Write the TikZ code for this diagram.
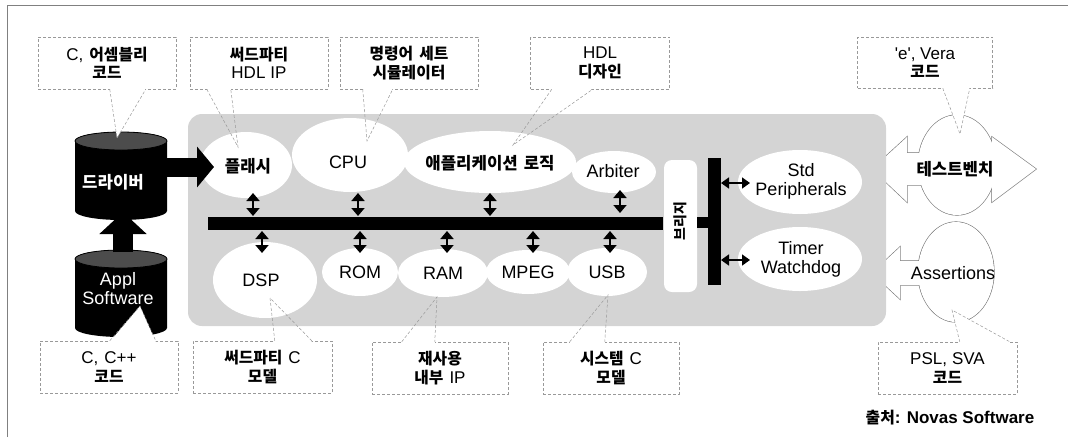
\documentclass[tikz,border=0pt]{standalone}
\usepackage{fontspec}
\setmainfont{Liberation Sans}
\newfontfamily\kr{Noto Sans CJK KR}[Scale=0.93]
\usetikzlibrary{arrows.meta}
\newcommand\K[1]{{\kr\bfseries #1}}
\begin{document}
\begin{tikzpicture}[x=1pt,y=-1pt,
  lbl/.style={font=\fontsize{18}{19}\selectfont, align=center, inner sep=0pt},
  wlbl/.style={lbl, text=white},
  callbox/.style={draw=black!40, densely dashed, fill=white, line width=0.5pt,
    minimum width=138pt, minimum height=52pt, align=center,
    font=\fontsize{17}{18.5}\selectfont, inner sep=0pt},
  wedge/.style={draw=black!40, densely dashed, line width=0.5pt},
  busarr/.style={line width=1.8pt, {Triangle[width=13pt,length=8pt]}-{Triangle[width=13pt,length=8pt]}},
  sidearr/.style={line width=1.6pt, {Triangle[width=11pt,length=8pt]}-{Triangle[width=11pt,length=8pt]}},
  bigarrow/.style={line width=19pt, -{Triangle[width=40pt,length=17pt]}},
  tbline/.style={draw=black!55, line width=1.2pt},
  zone/.style={fill=black!17},
  blob/.style={fill=white},
  cyl/.style={fill=black},
  cyltop/.style={fill=black!70, draw=black, line width=0.8pt}]
\useasboundingbox (0,0) rectangle (1068,437);
% frame
\draw[black!50, line width=0.8pt] (7,437) -- (7,5) -- (1068,5);

% testbench and assertions shapes
\draw[tbline] (957,165) ellipse[x radius=39pt, y radius=50pt];
\draw[tbline] (872,169) -- (907,137) -- (907,153) -- (992,153) -- (992,137) -- (1036,169)
  -- (992,202) -- (992,185) -- (907,185) -- (907,202) -- cycle;
\draw[tbline] (956,272) ellipse[x radius=38pt, y radius=50pt];
\draw[tbline] (872,273) -- (900,247) -- (900,261) -- (940,261) -- (940,285) -- (900,285) -- (900,299) -- cycle;
\fill[white] (957,165) ellipse[x radius=39pt, y radius=50pt];
\fill[white] (872,169) -- (907,137) -- (907,153) -- (992,153) -- (992,137) -- (1036,169)
  -- (992,202) -- (992,185) -- (907,185) -- (907,202) -- cycle;
\fill[white] (956,272) ellipse[x radius=38pt, y radius=50pt];
\fill[white] (872,273) -- (900,247) -- (900,261) -- (940,261) -- (940,285) -- (900,285) -- (900,299) -- cycle;

% cylinders
\fill[cyl] (75,141) -- (75,211) arc[start angle=180, end angle=360, x radius=46pt, y radius=9pt]
  -- (167,141) arc[start angle=0, end angle=180, x radius=46pt, y radius=9pt] -- cycle;
\filldraw[cyltop] (121,141) ellipse[x radius=46pt, y radius=9pt];
\fill[cyl] (75,259) -- (75,328) arc[start angle=180, end angle=360, x radius=46pt, y radius=9pt]
  -- (167,259) arc[start angle=0, end angle=180, x radius=46pt, y radius=9pt] -- cycle;
\filldraw[cyltop] (121,259) ellipse[x radius=46pt, y radius=9pt];

% callout boxes
\node[callbox] (c1) at (107,63) {C,\hspace{6pt}\K{어셈블리}\\\K{코드}};
\node[callbox] (c2) at (259,63) {\K{써드파티}\\HDL\hspace{5pt}IP};
\node[callbox] (c3) at (409,63) {\K{명령어\hspace{6pt}세트}\\\K{시뮬레이터}};
\node[callbox, minimum width=139pt] (c4) at (600,63) {HDL\\\K{디자인}};
\node[callbox, minimum width=135pt, minimum height=51pt] (c5) at (925,62.5) {\textquotesingle e\textquotesingle, Vera\\\K{코드}};
\node[callbox] (c6) at (109,367) {C,\hspace{6pt}C++\\\K{코드}};
\node[callbox, minimum width=139pt] (c7) at (262.5,367) {\K{써드파티}\hspace{6pt}C\\\K{모델}};
\node[callbox, minimum width=136pt] (c8) at (440,368) {\K{재사용}\\\K{내부}\hspace{6pt}IP};
\node[callbox, minimum width=136pt] (c9) at (611,368) {\K{시스템}\hspace{6pt}C\\\K{모델}};
\node[callbox, minimum width=139pt] (c10) at (947.5,368) {PSL,\hspace{5pt}SVA\\\K{코드}};

% callout tips
\coordinate (t1) at (117,138);
\coordinate (t2) at (238,147);
\coordinate (t3) at (367,141);
\coordinate (t4) at (513,145);
\coordinate (t5) at (960,134);
\coordinate (t6) at (140,306);
\coordinate (t7) at (270,298);
\coordinate (t8) at (437,297);
\coordinate (t9) at (608,295);
\coordinate (t10) at (952,310);

% white wedge fills
\fill[white] ([xshift=72pt,yshift=1pt]c1.south west) -- (t1) -- ([xshift=108pt,yshift=1pt]c1.south west) -- cycle;
\fill[white] ([xshift=17pt,yshift=1pt]c2.south west) -- (t2) -- ([xshift=41pt,yshift=1pt]c2.south west) -- cycle;
\fill[white] ([xshift=23pt,yshift=1pt]c3.south west) -- (t3) -- ([xshift=53pt,yshift=1pt]c3.south west) -- cycle;
\fill[white] ([xshift=21.5pt,yshift=1pt]c4.south west) -- (t4) -- ([xshift=62.5pt,yshift=1pt]c4.south west) -- cycle;
\fill[white] ([xshift=85.5pt,yshift=1pt]c5.south west) -- (t5) -- ([xshift=112.5pt,yshift=1pt]c5.south west) -- cycle;
\fill[white] ([xshift=70pt,yshift=-1pt]c6.north west) -- (t6) -- ([xshift=116pt,yshift=-1pt]c6.north west) -- cycle;
\fill[white] ([xshift=82pt,yshift=-1pt]c7.north west) -- (t7) -- ([xshift=119pt,yshift=-1pt]c7.north west) -- cycle;
\fill[white] ([xshift=30pt,yshift=-1pt]c8.north west) -- (t8) -- ([xshift=63pt,yshift=-1pt]c8.north west) -- cycle;
\fill[white] ([xshift=27pt,yshift=-1pt]c9.north west) -- (t9) -- ([xshift=62pt,yshift=-1pt]c9.north west) -- cycle;
\fill[white] ([xshift=82pt,yshift=-1pt]c10.north west) -- (t10) -- ([xshift=132pt,yshift=-1pt]c10.north west) -- cycle;

% gray zone and white blobs
\fill[zone, rounded corners=14pt] (188,114) rectangle (886,326);
\fill[blob] (246,165) ellipse[x radius=46pt, y radius=33pt];
\fill[blob] (350,155) ellipse[x radius=58pt, y radius=37pt];
\fill[blob] (490,162) ellipse[x radius=86pt, y radius=31pt];
\fill[blob] (614,172) ellipse[x radius=42pt, y radius=21pt];
\fill[blob] (265,280) ellipse[x radius=52pt, y radius=38pt];
\fill[blob] (360,272) ellipse[x radius=38pt, y radius=24pt];
\fill[blob] (443,273) ellipse[x radius=45pt, y radius=24pt];
\fill[blob] (528,272) ellipse[x radius=42pt, y radius=22pt];
\fill[blob] (607,272) ellipse[x radius=40pt, y radius=24pt];
\fill[blob, rounded corners=8pt] (664,160) rectangle (697,292);
\fill[blob] (800,182) ellipse[x radius=62pt, y radius=32pt];
\fill[blob] (800,259) ellipse[x radius=62pt, y radius=32pt];

% wedge lines
\draw[wedge] ([xshift=72pt]c1.south west) -- (t1) -- ([xshift=108pt]c1.south west);
\draw[wedge] ([xshift=17pt]c2.south west) -- (t2) -- ([xshift=41pt]c2.south west);
\draw[wedge] ([xshift=23pt]c3.south west) -- (t3) -- ([xshift=53pt]c3.south west);
\draw[wedge] ([xshift=21.5pt]c4.south west) -- (t4) -- ([xshift=62.5pt]c4.south west);
\draw[wedge] ([xshift=85.5pt]c5.south west) -- (t5) -- ([xshift=112.5pt]c5.south west);
\draw[wedge] ([xshift=70pt]c6.north west) -- (t6) -- ([xshift=116pt]c6.north west);
\draw[wedge] ([xshift=82pt]c7.north west) -- (t7) -- ([xshift=119pt]c7.north west);
\draw[wedge] ([xshift=30pt]c8.north west) -- (t8) -- ([xshift=63pt]c8.north west);
\draw[wedge] ([xshift=27pt]c9.north west) -- (t9) -- ([xshift=62pt]c9.north west);
\draw[wedge] ([xshift=82pt]c10.north west) -- (t10) -- ([xshift=132pt]c10.north west);

% bus, bridge bar
\fill (208,217) rectangle (663,230);
\fill (697,217) rectangle (708,228);
\fill (708,158) rectangle (721,285);

% labels
\node[wlbl] (drv) at (113,182) {\K{드라이버}};
\node[wlbl] (appl) at (118,289) {Appl\\Software};
\node[lbl] (flash) at (248,166) {\K{플래시}};
\node[lbl] (cpu) at (348,162) {CPU};
\node[lbl] (app) at (490,163) {\K{애플리케이션\hspace{6pt}로직}};
\node[lbl] (arb) at (613,171) {Arbiter};
\node[lbl] (dsp) at (261,280) {DSP};
\node[lbl] (rom) at (360,272) {ROM};
\node[lbl] (ram) at (443,273) {RAM};
\node[lbl] (mpeg) at (528,272) {MPEG};
\node[lbl] (usb) at (607,272) {USB};
\node[lbl, rotate=90, font=\fontsize{15}{15}\selectfont] (bridge) at (680,221) {\K{브리지}};
\node[lbl] (std) at (801,181) {Std\\Peripherals};
\node[lbl] (timer) at (801,259) {Timer\\Watchdog};
\node[lbl] (tb) at (955,169) {\K{테스트벤치}};
\node[lbl] (asrt) at (953,273) {Assertions};
\node[lbl, font=\bfseries\fontsize{17}{19}\selectfont] (src) at (950,418) {\K{출처}: Novas Software};

% big arrows
\coordinate (drvE) at (166,167);
\coordinate (flashW) at (214,167);
\draw[bigarrow] (drvE) -- (flashW);
\coordinate (applN) at (123,252);
\coordinate (drvS) at (123,212);
\draw[line width=20pt, -{Triangle[width=46pt,length=22pt]}] (applN) -- (drvS);

% bus arrows
\draw[busarr] (253,193) -- (253,216);
\draw[busarr] (358,193) -- (358,216);
\draw[busarr] (490,193) -- (490,216);
\draw[busarr] (620,190) -- (620,213);
\draw[busarr] (262,231) -- (262,253);
\draw[busarr] (360,231) -- (360,253);
\draw[busarr] (447,231) -- (447,253);
\draw[busarr] (533,231) -- (533,253);
\draw[busarr] (610,231) -- (610,253);
\draw[sidearr] (721,183) -- (750,183);
\draw[sidearr] (721,260) -- (750,260);
\end{tikzpicture}
\end{document}
